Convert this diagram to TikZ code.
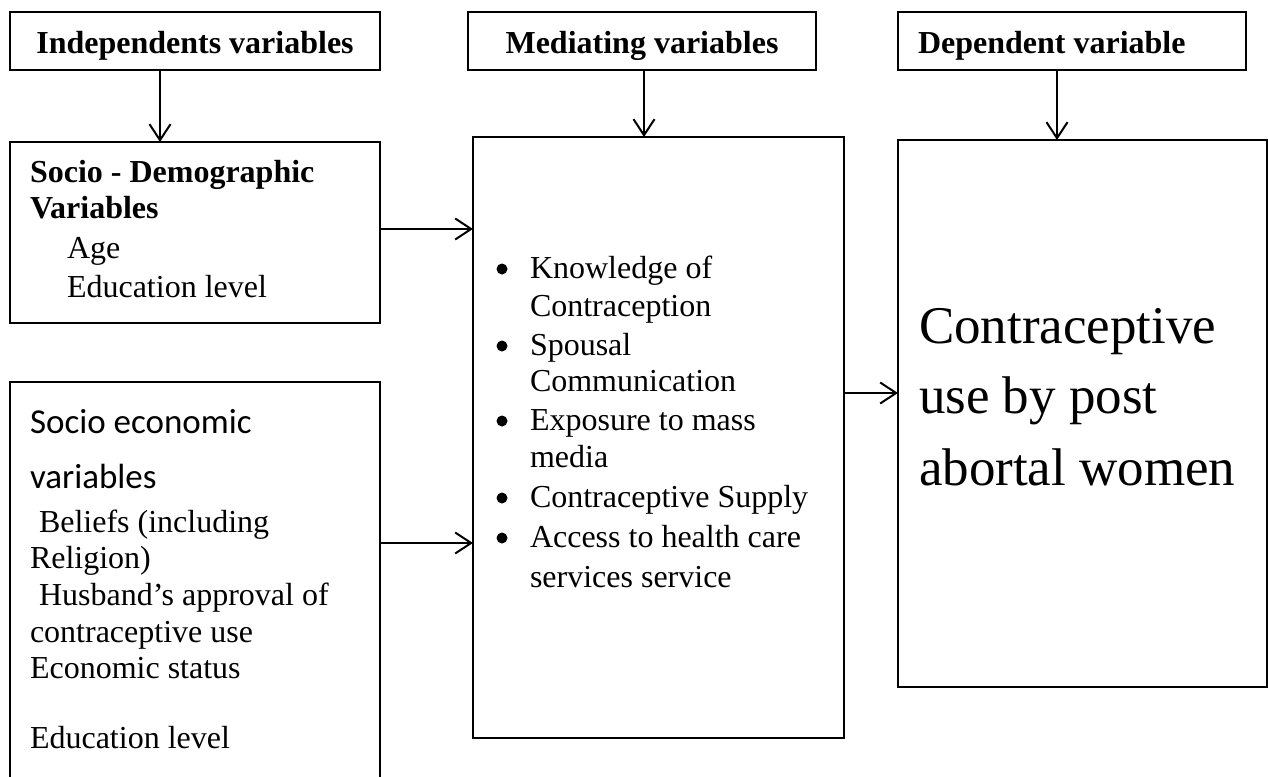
\documentclass[tikz,border=0pt]{standalone}
\usepackage{fontspec}
\setmainfont{Liberation Serif}
\newfontfamily\carl{Carlito}
\usetikzlibrary{arrows.meta}
\tikzset{
  box/.style={draw, line width=2.8pt, inner sep=0pt, outer sep=0pt, anchor=north west},
  arr/.style={line width=2pt, -{Straight Barb[length=16pt,width=21pt]}},
  txt/.style={anchor=base west, inner sep=0pt, outer sep=0pt, font=\fontsize{32}{38}\selectfont},
  btxt/.style={txt, font=\fontsize{32}{38}\selectfont\bfseries},
  hd/.style={anchor=base, inner sep=0pt, outer sep=0pt, font=\fontsize{32}{38}\selectfont\bfseries},
  stxt/.style={txt, font=\fontsize{35}{40}\selectfont\carl},
  big/.style={txt, font=\fontsize{53}{60}\selectfont},
  dot/.style={circle, fill=black, draw=none, minimum size=11pt, inner sep=0pt, outer sep=0pt},
}
\begin{document}
\begin{tikzpicture}[x=1pt, y=-1pt]
\useasboundingbox (0,0) rectangle (1268,776);
\clip (0,0) rectangle (1268,776);
% header boxes
\node[box, minimum width=370pt, minimum height=58pt] (hI) at (10,12) {};
\node[hd] (tI) at (195,53) {Independents variables};
\node[box, minimum width=348pt, minimum height=58pt] (hM) at (468,12) {};
\node[hd] (tM) at (642,53) {Mediating variables};
\node[box, minimum width=348pt, minimum height=58pt] (hD) at (898,12) {};
\node[btxt] (tD) at (918,53) {Dependent variable};
% socio-demographic
\node[box, minimum width=370pt, minimum height=181pt] (sd) at (10,142) {};
\node[btxt] (sd1) at (30,182) {Socio - Demographic};
\node[btxt] (sd2) at (30,218) {Variables};
\node[txt] (sd3) at (67,258) {Age};
\node[txt] (sd4) at (67,297) {Education level};
% socio-economic
\node[box, minimum width=370pt, minimum height=430pt] (se) at (10,382) {};
\node[stxt] (se1) at (30,433) {Socio economic};
\node[stxt] (se2) at (30,488) {variables};
\node[txt] (se3) at (39,532) {Beliefs (including};
\node[txt] (se4) at (30,568) {Religion)};
\node[txt] (se5) at (39,605) {Husband’s approval of};
\node[txt] (se6) at (30,642) {contraceptive use};
\node[txt] (se7) at (30,678) {Economic status};
\node[txt] (se8) at (30,748) {Education level};
% mediating
\node[box, minimum width=371pt, minimum height=601pt] (md) at (473,137) {};
\node[dot] (b1) at (502,269) {};
\node[txt] (m1) at (530,278) {Knowledge of};
\node[txt] (m1b) at (530,316) {Contraception};
\node[dot] (b2) at (502,346) {};
\node[txt] (m2) at (530,355) {Spousal};
\node[txt] (m2b) at (530,391) {Communication};
\node[dot] (b3) at (502,421) {};
\node[txt] (m3) at (530,430) {Exposure to mass};
\node[txt] (m3b) at (530,467) {media};
\node[dot] (b4) at (502,498) {};
\node[txt] (m4) at (530,507) {Contraceptive Supply};
\node[dot] (b5) at (502,538) {};
\node[txt] (m5) at (530,547) {Access to health care};
\node[txt] (m5b) at (530,587) {services service};
% dependent
\node[box, minimum width=369pt, minimum height=547pt] (dp) at (898,140) {};
\node[big] (d1) at (919,343) {Contraceptive};
\node[big] (d2) at (919,413) {use by post};
\node[big] (d3) at (919,485) {abortal women};
% connectors
\coordinate (xI) at (160,0);
\coordinate (xM) at (644,0);
\coordinate (xD) at (1057,0);
\coordinate (y1) at (0,229);
\coordinate (y2) at (0,543);
\coordinate (y3) at (0,393);
\draw[arr] (hI.south -| xI) -- (sd.north -| xI);
\draw[arr] (hM.south -| xM) -- (md.north -| xM);
\draw[arr] (hD.south -| xD) -- (dp.north -| xD);
\draw[arr] (sd.east |- y1) -- (md.west |- y1);
\draw[arr] (se.east |- y2) -- (md.west |- y2);
\draw[arr] (md.east |- y3) -- (dp.west |- y3);
\end{tikzpicture}
\end{document}
